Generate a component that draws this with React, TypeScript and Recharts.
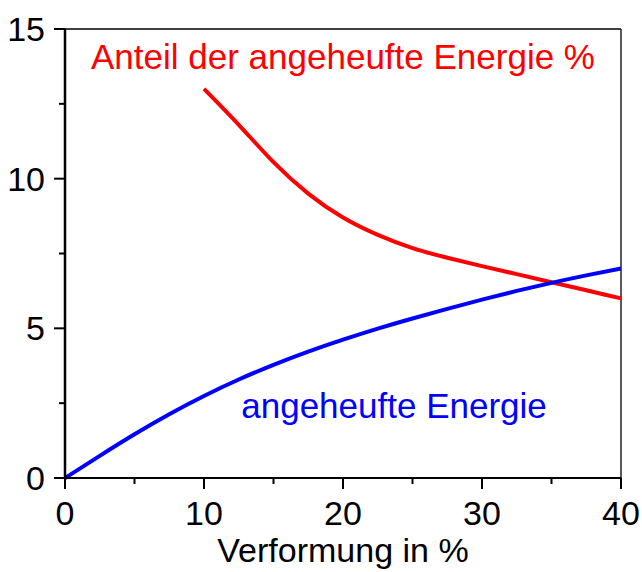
import React from "react";
import { LineChart, Line, XAxis, YAxis, ReferenceLine, ReferenceDot } from "recharts";

const xValues = [0, 2.5, 5, 7.5, 10, 12.5, 15, 17.5, 20, 22.5, 25, 27.5, 30, 32.5, 35, 37.5, 40];
const storedEnergy = [0, 0.74, 1.46, 2.13, 2.74, 3.29, 3.78, 4.22, 4.62, 4.99, 5.33, 5.65, 5.96, 6.25, 6.52, 6.77, 7.0];
const storedShare = [null, null, null, null, 13.0, 11.8, 10.55, 9.5, 8.7, 8.12, 7.68, 7.36, 7.08, 6.81, 6.54, 6.27, 6.0];

const xTicks = [0, 5, 10, 15, 20, 25, 30, 35, 40];
const xMajor = [0, 10, 20, 30, 40];
const yTicks = [0, 2.5, 5, 7.5, 10, 12.5, 15];
const yMajor = [0, 5, 10, 15];

const shareLabel = "Anteil der angeheufte Energie %";
const energyLabel = "angeheufte Energie";
const xTitle = "Verformung in %";

const FONT = "'Liberation Sans', Arial, Helvetica, sans-serif";

const data = xValues.map((x, i) => ({ x, energy: storedEnergy[i], share: storedShare[i] }));

const XTick = (props: any) => {
  const { x, y, payload } = props;
  const major = xMajor.includes(payload.value);
  return (
    <g>
      <line x1={x} y1={y} x2={x} y2={y + (major ? 11 : 6)} stroke="#000" strokeWidth={2} />
      {major && (
        <text x={x} y={y + 47} textAnchor="middle" fontSize={34} fontFamily={FONT} fill="#000">
          {payload.value}
        </text>
      )}
    </g>
  );
};

const YTick = (props: any) => {
  const { x, y, payload } = props;
  const major = yMajor.includes(payload.value);
  return (
    <g>
      <line x1={x - (major ? 11 : 6)} y1={y} x2={x} y2={y} stroke="#000" strokeWidth={2} />
      {major && (
        <text x={x - 20} y={y} dy="0.355em" textAnchor="end" fontSize={34} fontFamily={FONT} fill="#000">
          {payload.value}
        </text>
      )}
    </g>
  );
};

export default function App() {
  return (
    <div style={{ position: "absolute", left: 0, top: 0, width: 642, height: 572, background: "#fff" }}>
      <LineChart width={642} height={572} data={data} margin={{ top: 29, right: 21, left: 0, bottom: 0 }}>
        <XAxis
          type="number"
          dataKey="x"
          domain={[0, 40]}
          ticks={xTicks}
          interval={0}
          height={94}
          tickLine={false}
          tickSize={0}
          tickMargin={0}
          tick={<XTick />}
          axisLine={{ stroke: "#000", strokeWidth: 2 }}
          label={{ value: xTitle, position: "insideBottom", offset: 10, fontSize: 34, fontFamily: FONT, fill: "#000" }}
        />
        <YAxis
          type="number"
          domain={[0, 15]}
          ticks={yTicks}
          interval={0}
          width={65}
          tickLine={false}
          tickSize={0}
          tickMargin={0}
          tick={<YTick />}
          axisLine={{ stroke: "#000", strokeWidth: 2.5 }}
        />
        <ReferenceLine y={15} stroke="#000" strokeWidth={1.3} />
        <ReferenceLine x={40} stroke="#000" strokeWidth={1.3} />
        <Line
          type="natural"
          dataKey="share"
          stroke="#ff0000"
          strokeWidth={4}
          dot={false}
          connectNulls={false}
          isAnimationActive={false}
        />
        <Line
          type="natural"
          dataKey="energy"
          stroke="#0000ff"
          strokeWidth={4}
          dot={false}
          isAnimationActive={false}
        />
        <ReferenceDot
          x={20}
          y={14.07}
          r={0}
          fill="none"
          stroke="none"
          label={{ value: shareLabel, position: "center", fill: "#ff0000", fontSize: 35, fontFamily: FONT }}
        />
        <ReferenceDot
          x={23.67}
          y={2.42}
          r={0}
          fill="none"
          stroke="none"
          label={{ value: energyLabel, position: "center", fill: "#0000ff", fontSize: 35, fontFamily: FONT }}
        />
      </LineChart>
    </div>
  );
}
